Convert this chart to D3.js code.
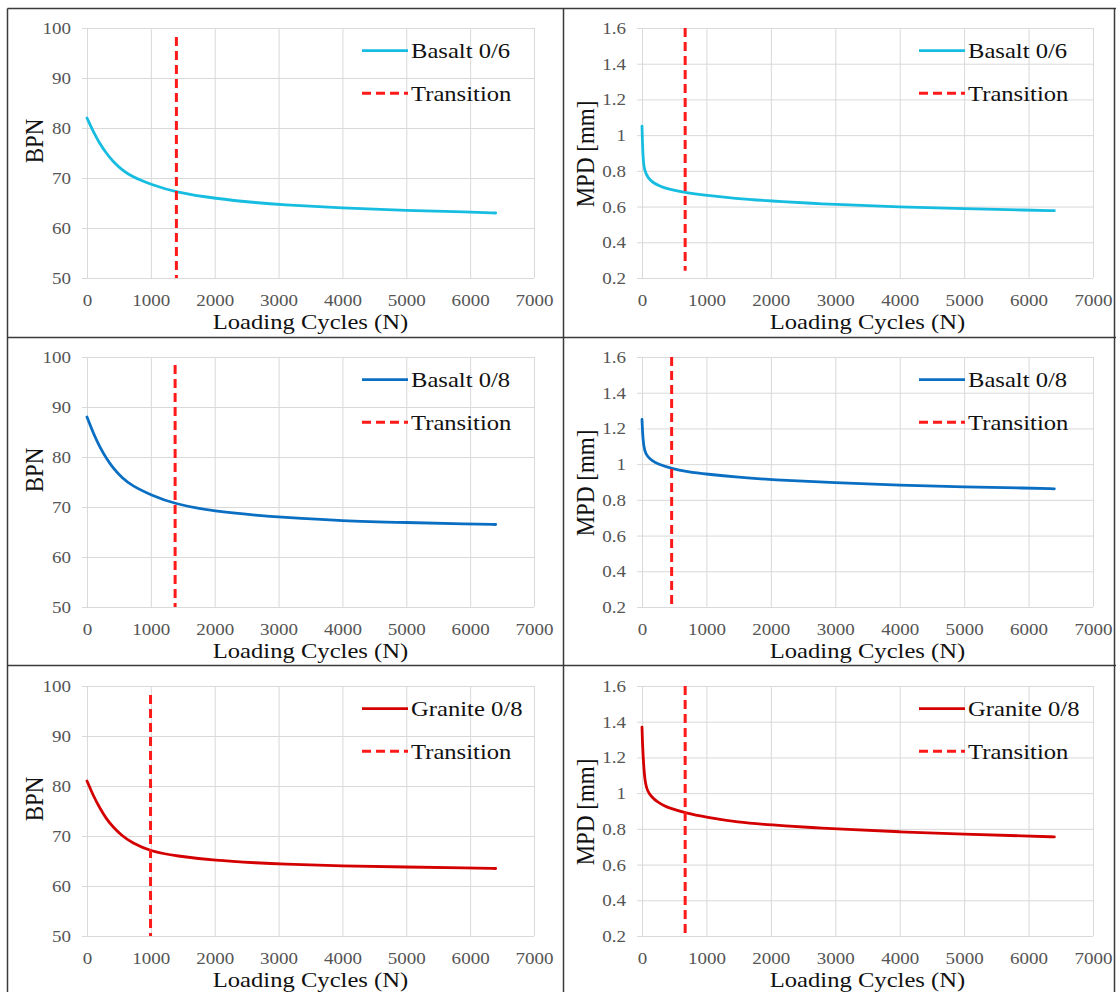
<!DOCTYPE html>
<html>
<head>
<meta charset="utf-8">
<script src="https://cdn.jsdelivr.net/npm/d3@7"></script>
<style>
  body { margin: 0; background: #fff; }
  svg { display: block; font-family: "Liberation Serif", "Times New Roman", serif; }
  .grid line { stroke: #d9d9d9; stroke-width: 1; }
  .grid text { fill: #555; font-size: 17px; font-family: "Liberation Serif", serif; }
  .grid .domain { display: none; }
</style>
</head>
<body>
<div id="chart"></div>
<script>
"use strict";

// loading cycles
var cyclesBpn06 = [0, 100, 200, 300, 400, 550, 700, 1000, 1400, 2000, 2700, 3000, 4000, 5000, 6000, 6400];
var bpnBasalt06 = [82.0, 79.2, 76.9, 75.0, 73.4, 71.6, 70.3, 68.7, 67.1, 65.9, 65.0, 64.7, 64.0, 63.5, 63.2, 63.0];

var cyclesMpd06 = [0, 15, 40, 90, 170, 280, 380, 660, 1000, 1430, 2000, 2700, 3000, 4000, 5000, 6000, 6400];
var mpdBasalt06 = [1.05, 0.86, 0.80, 0.762, 0.733, 0.715, 0.70, 0.679, 0.663, 0.646, 0.631, 0.617, 0.612, 0.598, 0.588, 0.580, 0.577];

var cyclesBpn08 = [0, 100, 200, 300, 400, 550, 700, 1000, 1370, 2000, 2700, 3000, 4000, 5000, 6000, 6400];
var bpnBasalt08 = [88.0, 84.7, 82.0, 79.8, 77.9, 75.8, 74.3, 72.4, 70.6, 69.1, 68.3, 68.0, 67.2, 66.9, 66.6, 66.5];

var cyclesMpd08 = [0, 15, 40, 80, 150, 250, 460, 700, 1000, 1500, 2000, 3000, 4000, 5000, 6000, 6400];
var mpdBasalt08 = [1.25, 1.13, 1.075, 1.045, 1.02, 1.0, 0.975, 0.958, 0.944, 0.926, 0.913, 0.896, 0.882, 0.872, 0.866, 0.862];

var cyclesBpnGr = [0, 100, 200, 300, 400, 550, 700, 1000, 1400, 2000, 2700, 3000, 4000, 5000, 6000, 6400];
var bpnGranite08 = [81.0, 78.0, 75.6, 73.5, 71.9, 70.0, 68.7, 66.9, 66.0, 65.1, 64.6, 64.4, 64.0, 63.8, 63.6, 63.5];

var cyclesMpdGr = [0, 10, 30, 50, 80, 155, 235, 340, 440, 670, 1000, 1480, 2000, 2700, 3000, 4000, 5000, 6000, 6400];
var mpdGranite08 = [1.37, 1.25, 1.133, 1.06, 1.013, 0.976, 0.952, 0.93, 0.915, 0.889, 0.865, 0.837, 0.822, 0.806, 0.80, 0.783, 0.770, 0.760, 0.755];

// transition cycle and the vertical extent of the dashed line
var transitionCycles = [1400, 670, 1380, 460, 995, 670];
var transitionTop = [98.2, 1.6, 98.4, 1.6, 98.2, 1.6];
var transitionBottom = [50, 0.24, 50, 0.2, 50, 0.2];

var seriesNames = ["Basalt 0/6", "Basalt 0/6", "Basalt 0/8", "Basalt 0/8", "Granite 0/8", "Granite 0/8"];
var xTicks = [0, 1000, 2000, 3000, 4000, 5000, 6000, 7000];
var bpnTicks = [50, 60, 70, 80, 90, 100];
var mpdTicks = [0.2, 0.4, 0.6, 0.8, 1.0, 1.2, 1.4, 1.6];

var seriesColors = ["#17bde0", "#17bde0", "#0a6fc2", "#0a6fc2", "#d40000", "#d40000"];
var transitionColor = "#ff1a1a";

// the source image is a bit wider than tall, so text is stretched sideways
var STRETCH = 1.12;

var W = 1116, H = 992;
var svg = d3.select("#chart").append("svg").attr("width", W).attr("height", H);

// stretch a text in place, keeping its anchor point
function stretch(sel) {
  sel.each(function () {
    var t = d3.select(this);
    var x = +t.attr("x") || 0;
    t.attr("x", x / STRETCH).attr("transform", "scale(" + STRETCH + ",1)");
  });
}

function label(parent, x, y, str, size, anchor) {
  return parent.append("text")
    .attr("transform", "translate(" + x + "," + y + ") scale(" + STRETCH + ",1)")
    .attr("text-anchor", anchor || "start").attr("font-size", size).attr("fill", "#111")
    .text(str);
}

// panel frame lines
var frame = svg.append("g").attr("stroke", "#3a3a3a").attr("stroke-width", 1.5);
frame.append("line").attr("x1", 7.5).attr("x2", 7.5).attr("y1", 8.5).attr("y2", H);
frame.append("line").attr("x1", 563.5).attr("x2", 563.5).attr("y1", 8.5).attr("y2", H);
frame.append("line").attr("x1", 1114.5).attr("x2", 1114.5).attr("y1", 8.5).attr("y2", H);
[8.5, 337.5, 665.5].forEach(function (y) {
  frame.append("line").attr("x1", 7.5).attr("x2", W).attr("y1", y).attr("y2", y);
});

var panels = [
  { cycles: cyclesBpn06, values: bpnBasalt06, kind: "bpn" },
  { cycles: cyclesMpd06, values: mpdBasalt06, kind: "mpd" },
  { cycles: cyclesBpn08, values: bpnBasalt08, kind: "bpn" },
  { cycles: cyclesMpd08, values: mpdBasalt08, kind: "mpd" },
  { cycles: cyclesBpnGr, values: bpnGranite08, kind: "bpn" },
  { cycles: cyclesMpdGr, values: mpdGranite08, kind: "mpd" }
];

var rowTops = [28, 357, 686];
var plotH = 250;

panels.forEach(function (p, i) {
  var col = i % 2, row = Math.floor(i / 2);
  var left = col === 0 ? 87 : 642;
  var w = col === 0 ? 447 : 451;
  var top = rowTops[row];
  var isBpn = p.kind === "bpn";

  var x = d3.scaleLinear().domain([0, 7000]).range([0, w]);
  var y = d3.scaleLinear().domain(isBpn ? [50, 100] : [0.2, 1.6]).range([plotH, 0]);

  var g = svg.append("g").attr("transform", "translate(" + left + "," + top + ")");

  // vertical gridlines + x labels
  g.append("g").attr("class", "grid")
    .attr("transform", "translate(0," + plotH + ")")
    .call(d3.axisBottom(x).tickValues(xTicks).tickSize(-plotH).tickPadding(16).tickFormat(d3.format("d")))
    .selectAll("text").call(stretch);

  // horizontal gridlines with a small outer tick
  var yAxis = d3.axisLeft(y).tickSize(-(w + 5)).tickPadding(11)
    .tickValues(isBpn ? bpnTicks : mpdTicks)
    .tickFormat(function (d) { return isBpn ? d : String(+d.toFixed(1)); });
  g.append("g").attr("class", "grid").attr("transform", "translate(-5,0)").call(yAxis)
    .selectAll("text").call(stretch);

  // data line, smoothed like the excel curve
  var pts = p.cycles.map(function (c, k) { return [c, p.values[k]]; });
  var line = d3.line().x(function (d) { return x(d[0]); }).y(function (d) { return y(d[1]); })
    .curve(d3.curveBasis);
  g.append("path").datum(pts).attr("d", line)
    .attr("fill", "none").attr("stroke", seriesColors[i]).attr("stroke-width", 2.8)
    .attr("stroke-linejoin", "round").attr("stroke-linecap", "round");

  // transition marker
  g.append("line")
    .attr("x1", x(transitionCycles[i])).attr("x2", x(transitionCycles[i]))
    .attr("y1", y(transitionTop[i])).attr("y2", y(transitionBottom[i]))
    .attr("stroke", transitionColor).attr("stroke-width", 3).attr("stroke-dasharray", "9,5");

  // legend
  var lx = Math.round(w * 0.615);
  var leg = g.append("g").attr("transform", "translate(" + lx + ",0)");
  leg.append("line").attr("x1", 0).attr("x2", 46).attr("y1", 22.7).attr("y2", 22.7)
    .attr("stroke", seriesColors[i]).attr("stroke-width", 2.8);
  label(leg, 49, 30, seriesNames[i], 22);
  leg.append("line").attr("x1", 0).attr("x2", 46).attr("y1", 65.3).attr("y2", 65.3)
    .attr("stroke", transitionColor).attr("stroke-width", 3).attr("stroke-dasharray", "9,5");
  label(leg, 49, 73, "Transition", 22);

  // axis titles
  label(g, w / 2, plotH + 51, "Loading Cycles (N)", 22, "middle");
  var ty = isBpn ? 113 : 126;
  var tx = isBpn ? -44 : -48;
  g.append("text").attr("text-anchor", "middle").attr("font-size", 23).attr("fill", "#111")
    .attr("transform", "translate(" + tx + "," + ty + ") rotate(-90) scale(1," + STRETCH + ")")
    .text(isBpn ? "BPN" : "MPD [mm]");
});
</script>
</body>
</html>
